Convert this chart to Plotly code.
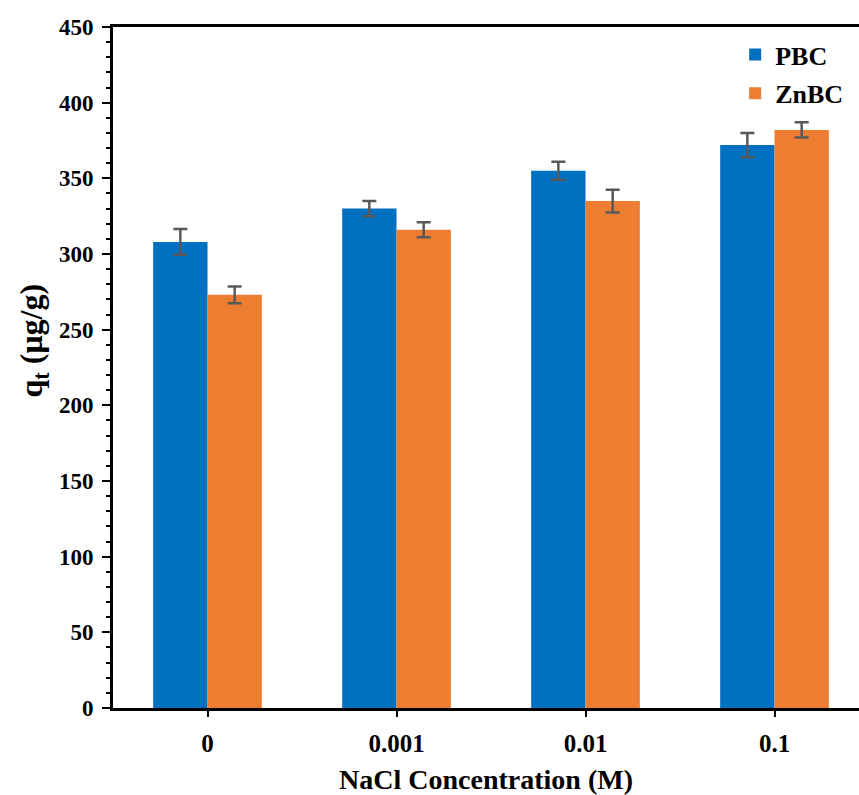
import plotly.graph_objects as go

categories = ["0", "0.001", "0.01", "0.1"]
pbc = [308, 330, 355, 372]
pbc_err = [8.5, 5, 6, 8]
znbc = [273, 316, 335, 382]
znbc_err = [5.5, 5, 7.5, 5]
y_ticks = [0, 50, 100, 150, 200, 250, 300, 350, 400, 450]

FONT = "Liberation Serif"
ERR = "#595959"

fig = go.Figure()
fig.add_trace(go.Bar(
    name="PBC", x=categories, y=pbc, marker_color="#0070C0", marker_line_width=0,
    legendgroup="a",
    error_y=dict(type="data", array=pbc_err, color=ERR, thickness=2.5, width=7),
))
fig.add_trace(go.Bar(
    name="ZnBC", x=categories, y=znbc, marker_color="#ED7D31", marker_line_width=0,
    legendgroup="b",
    error_y=dict(type="data", array=znbc_err, color=ERR, thickness=2.5, width=7),
))

fig.update_layout(
    width=859, height=795,
    margin=dict(l=113, r=0, t=27, b=87),
    plot_bgcolor="white", paper_bgcolor="white",
    barmode="group", bargap=0.425, bargroupgap=0,
    font=dict(family=FONT, color="black", size=22, weight="bold"),
    legend=dict(x=0.834, y=0.994, xanchor="left", yanchor="top",
                font=dict(family=FONT, size=26, weight="bold"),
                bgcolor="rgba(0,0,0,0)", itemwidth=30, tracegroupgap=2),
    showlegend=True,
)
fig.add_annotation(
    text="q<sub>t</sub> (μg/g)", textangle=-90,
    xref="paper", yref="paper", x=-0.107, y=0.54,
    xanchor="center", yanchor="middle", showarrow=False,
    font=dict(family=FONT, size=32, weight="bold", color="black"),
)
fig.update_xaxes(
    type="category", range=[-0.5, 3.447],
    showline=True, linecolor="black", linewidth=3, mirror=True,
    ticks="outside", ticklen=6, tickwidth=2, tickcolor="black",
    ticklabelstandoff=5,
    tickfont=dict(family=FONT, size=25, weight="bold"),
    title=dict(text="NaCl Concentration (M)", font=dict(family=FONT, size=28, weight="bold"), standoff=14),
    showgrid=False, zeroline=False,
)
fig.update_yaxes(
    range=[0, 450], tickvals=y_ticks,
    showline=True, linecolor="black", linewidth=3, mirror=False,
    ticks="outside", ticklen=8, tickwidth=2, tickcolor="black",
    ticklabelstandoff=4,
    minor=dict(dtick=10, ticks="outside", ticklen=4, tickwidth=2, tickcolor="black"),
    tickfont=dict(family=FONT, size=23, weight="bold"),
    showgrid=False, zeroline=False,
)

fig.write_html("out.html")
